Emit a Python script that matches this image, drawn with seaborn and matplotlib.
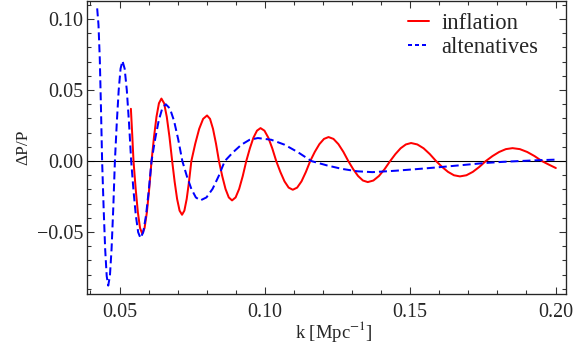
import numpy as np
import pandas as pd
import matplotlib
matplotlib.use("Agg")
import matplotlib.pyplot as plt
import seaborn as sns
from matplotlib.ticker import MultipleLocator, FuncFormatter

# values
k_infl = [0.0539, 0.05435, 0.0548,
          0.05555, 0.0563, 0.05705, 0.0578, 0.0586, 0.0594, 0.0602, 0.0610,
          0.06185, 0.0627, 0.06355, 0.0644, 0.06533, 0.06625, 0.06718, 0.0681,
          0.06895, 0.0698, 0.07065, 0.0715, 0.0723, 0.0731, 0.0739, 0.0747,
          0.07605, 0.0774, 0.07875, 0.0801, 0.08113, 0.08215, 0.08318, 0.0842,
          0.08533, 0.08645, 0.08758, 0.0887, 0.08993, 0.09115, 0.09238, 0.0936,
          0.09483, 0.09605, 0.09728, 0.0985, 0.09985, 0.1012, 0.10255, 0.1039,
          0.10533, 0.10675, 0.10818, 0.1096, 0.1111, 0.1126, 0.1141, 0.1156,
          0.11718, 0.11875, 0.12033, 0.1219, 0.1236, 0.1253, 0.1270, 0.1287,
          0.13038, 0.13205, 0.13373, 0.1354, 0.13733, 0.13925, 0.14118, 0.1431,
          0.1449, 0.1467, 0.1485, 0.1503, 0.15245, 0.1546, 0.15675, 0.1589,
          0.16095, 0.1630, 0.16505, 0.1671, 0.16933, 0.17155, 0.17378, 0.1760,
          0.1783, 0.1806, 0.1829, 0.1852, 0.18773, 0.19025, 0.19278, 0.1953,
          0.1977, 0.2001]
dp_infl = [0.0368, 0.0190, 0.0000,
           -0.0196, -0.0361, -0.0472, -0.0511, -0.0472, -0.0361, -0.0196, 0.0000,
           0.0169, 0.0311, 0.0407, 0.0440, 0.0407, 0.0311, 0.0169, 0.0000,
           -0.0145, -0.0267, -0.0349, -0.0378, -0.0349, -0.0267, -0.0145, 0.0000,
           0.0123, 0.0227, 0.0297, 0.0321, 0.0297, 0.0227, 0.0123, 0.0000,
           -0.0106, -0.0196, -0.0256, -0.0277, -0.0256, -0.0196, -0.0106, 0.0000,
           0.0089, 0.0164, 0.0214, 0.0232, 0.0214, 0.0164, 0.0089, 0.0000,
           -0.0077, -0.0143, -0.0187, -0.0202, -0.0187, -0.0143, -0.0077, 0.0000,
           0.0065, 0.0119, 0.0156, 0.0169, 0.0156, 0.0119, 0.0065, 0.0000,
           -0.0057, -0.0105, -0.0137, -0.0148, -0.0137, -0.0105, -0.0057, 0.0000,
           0.0049, 0.0090, 0.0117, 0.0127, 0.0117, 0.0090, 0.0049, 0.0000,
           -0.0041, -0.0076, -0.0100, -0.0108, -0.0100, -0.0076, -0.0041, 0.0000,
           0.0035, 0.0064, 0.0084, 0.0091, 0.0084, 0.0064, 0.0035, 0.0000,
           -0.0025, -0.0049]

k_alt = [0.0423, 0.04275, 0.0432, 0.0436, 0.0440,
         0.04453, 0.04505, 0.04558, 0.0461, 0.04668, 0.04725, 0.04783, 0.0484,
         0.04905, 0.0497, 0.05035, 0.0510, 0.05175, 0.0525, 0.05325, 0.0540,
         0.0548, 0.0556, 0.0564, 0.0572, 0.05815, 0.0591, 0.06005, 0.0610,
         0.06223, 0.06345, 0.06468, 0.0659, 0.06733, 0.06875, 0.07018, 0.0716,
         0.07315, 0.0747, 0.07625, 0.0778, 0.0799, 0.0820, 0.0841, 0.0862,
         0.08905, 0.0919, 0.09475, 0.0976, 0.1022, 0.1068, 0.1114, 0.1160,
         0.12125, 0.1265, 0.13175, 0.1370, 0.1450, 0.1520, 0.1590, 0.1670,
         0.1755, 0.1815, 0.1875, 0.1940, 0.2001]
dp_alt = [0.1075, 0.0960, 0.0720, 0.0380, 0.0000,
          -0.0336, -0.0620, -0.0810, -0.0877, -0.0810, -0.0620, -0.0336, 0.0000,
          0.0270, 0.0498, 0.0651, 0.0705, 0.0651, 0.0498, 0.0270, 0.0000,
          -0.0208, -0.0383, -0.0501, -0.0542, -0.0501, -0.0383, -0.0208, 0.0000,
          0.0153, 0.0283, 0.0370, 0.0400, 0.0370, 0.0283, 0.0153, 0.0000,
          -0.0106, -0.0196, -0.0256, -0.0277, -0.0256, -0.0196, -0.0106, 0.0000,
          0.0062, 0.0115, 0.0150, 0.0162, 0.0150, 0.0115, 0.0062, 0.0000,
          -0.0030, -0.0055, -0.0072, -0.0078, -0.0068, -0.0057, -0.0045, -0.0030,
          -0.0014, -0.0006, 0.0000, 0.0006, 0.0010]

df_infl = pd.DataFrame({"k": k_infl, "dP": dp_infl})
df_alt = pd.DataFrame({"k": k_alt, "dP": dp_alt})

sns.set_style("ticks")
plt.rcParams["font.family"] = ["Liberation Serif", "DejaVu Serif"]
plt.rcParams["mathtext.fontset"] = "stix"

fig = plt.figure(figsize=(6, 356 / 96), dpi=96)
ax = fig.add_axes([87 / 576, 1 - 294 / 356, (566 - 87) / 576, 293 / 356])

ax.axhline(0, color="black", lw=0.8, zorder=1)
sns.lineplot(data=df_infl, x="k", y="dP", ax=ax, color="red", lw=1.5,
             sort=False, estimator=None, label="inflation")
sns.lineplot(data=df_alt, x="k", y="dP", ax=ax, color="blue", lw=1.5,
             sort=False, estimator=None, label="altenatives")
ax.lines[-1].set_dashes((4, 2))

ax.set_xlim(0.0388, 0.2036)
ax.set_ylim(-0.0936, 0.1127)
fmt = FuncFormatter(lambda v, p: f"{v:.2f}".replace("-", "\u2212"))
ax.xaxis.set_major_locator(MultipleLocator(0.05))
ax.xaxis.set_minor_locator(MultipleLocator(0.01))
ax.yaxis.set_major_locator(MultipleLocator(0.05))
ax.yaxis.set_minor_locator(MultipleLocator(0.01))
ax.xaxis.set_major_formatter(fmt)
ax.yaxis.set_major_formatter(fmt)
ax.tick_params(which="both", direction="in", top=True, right=True,
               labelsize=15, width=0.8, color="#333333")
ax.tick_params(axis="x", pad=7)
ax.tick_params(axis="y", pad=3)
ax.tick_params(which="major", length=5)
ax.tick_params(which="minor", length=3)
for s in ax.spines.values():
    s.set_linewidth(1.0)

ax.set_xlabel("k [Mpc$^{-1}$]", fontsize=14)
ax.xaxis.set_label_coords(0.515, -0.085)
ax.set_ylabel("ΔP/P", fontsize=13, labelpad=4)

leg = ax.legend(loc="upper right", bbox_to_anchor=(0.962, 0.99),
                borderaxespad=0, frameon=False, fontsize=17,
                handlelength=0.95, handletextpad=0.55, labelspacing=0.15)
leg.get_lines()[1].set_dashes((2, 1.5))

fig.savefig("out.png", dpi=96)
